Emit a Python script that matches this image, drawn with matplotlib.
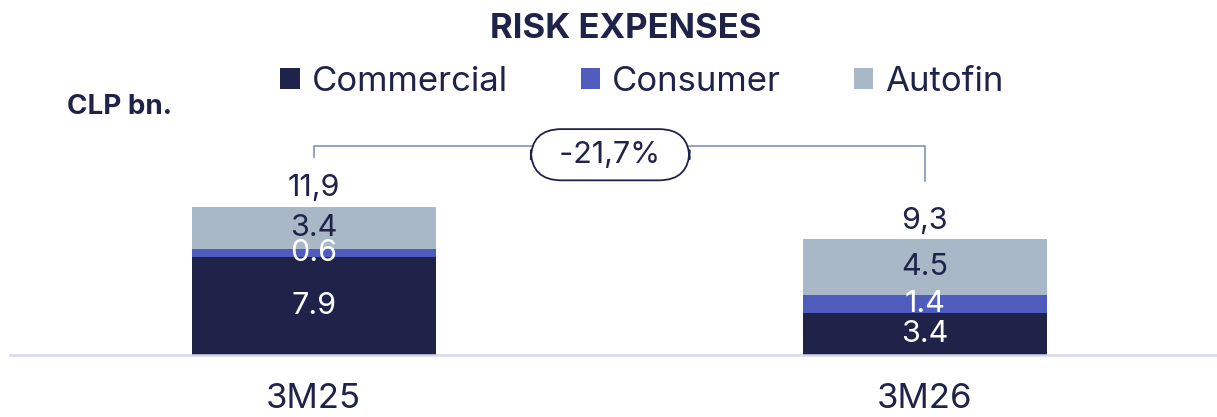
import matplotlib.pyplot as plt
from matplotlib.patches import Patch

plt.rcParams["font.family"] = ["Inter", "DejaVu Sans"]

NAVY = "#1f2349"

# data
periods = ["3M25", "3M26"]
segments = ["Commercial", "Consumer", "Autofin"]
commercial = [7.9, 3.4]
consumer = [0.6, 1.4]
autofin = [3.4, 4.5]
totals = ["11,9", "9,3"]
change_label = "-21,7%"

colors = {"Commercial": NAVY, "Consumer": "#4f5bbd", "Autofin": "#a9b8c6"}
label_colors = {"Commercial": "white", "Consumer": "white", "Autofin": NAVY}
values = {"Commercial": commercial, "Consumer": consumer, "Autofin": autofin}

fig = plt.figure(figsize=(12.17, 4.17), dpi=100)
ax = fig.add_axes([10 / 1217, 62 / 417, 1207 / 1217, 255 / 417])

x = list(range(len(periods)))
bottoms = [0.0] * len(periods)
for seg in segments:
    vals = values[seg]
    ax.bar(x, vals, width=0.40, bottom=bottoms, color=colors[seg], edgecolor="none",
           label=seg, zorder=2)
    for i, v in enumerate(vals):
        ax.text(x[i], bottoms[i] + v / 2, f"{v:.1f}", ha="center", va="center",
                fontsize=22, color=label_colors[seg], zorder=3)
    bottoms = [b + v for b, v in zip(bottoms, vals)]

# totals above bars
for i, t in enumerate(totals):
    ax.text(x[i], bottoms[i] + 0.85, t, ha="center", va="baseline", fontsize=22, color=NAVY)

# change bracket
y_top = max(bottoms) + 4.9
line_c = "#7f93b5"
ax.plot([x[0], x[0], x[1], x[1]], [bottoms[0] + 4.0, y_top, y_top, bottoms[1] + 4.7],
        color=line_c, lw=1.2, zorder=1, clip_on=False)
ax.text((x[0] + x[1]) / 2 - 0.015, y_top - 0.7, "  " + change_label + "  ", ha="center",
        va="center", fontsize=22, color=NAVY,
        bbox=dict(boxstyle="round,pad=0.38,rounding_size=1.0", fc="white", ec=NAVY, lw=1.3))

ax.set_xlim(-0.497, 1.478)
ax.set_ylim(0, 255 / 12.44)
ax.set_yticks([])
ax.set_xticks(x)
ax.set_xticklabels(periods, fontsize=25, color=NAVY)
ax.tick_params(axis="x", length=0, pad=20)
for s in ["top", "right", "left"]:
    ax.spines[s].set_visible(False)
ax.spines["bottom"].set_color("#d5d8ee")
ax.spines["bottom"].set_linewidth(1.8)

fig.text(626 / 1217, 1 - 29 / 417, "RISK EXPENSES", ha="center", va="center", fontsize=25,
         fontweight="bold", color=NAVY)
fig.text(67 / 1217, 1 - 107 / 417, "CLP bn.", ha="left", va="center", fontsize=20,
         fontweight="bold", color=NAVY)

handles = [Patch(facecolor=colors[s], edgecolor="none") for s in segments]
leg = fig.legend(handles, segments, loc="center", bbox_to_anchor=(642 / 1217, 1 - 82 / 417),
                 ncol=3, frameon=False, fontsize=25, handlelength=0.55, handleheight=0.55,
                 handletextpad=0.35, columnspacing=2.1, labelcolor=NAVY)

fig.savefig("out.png", dpi=100)
